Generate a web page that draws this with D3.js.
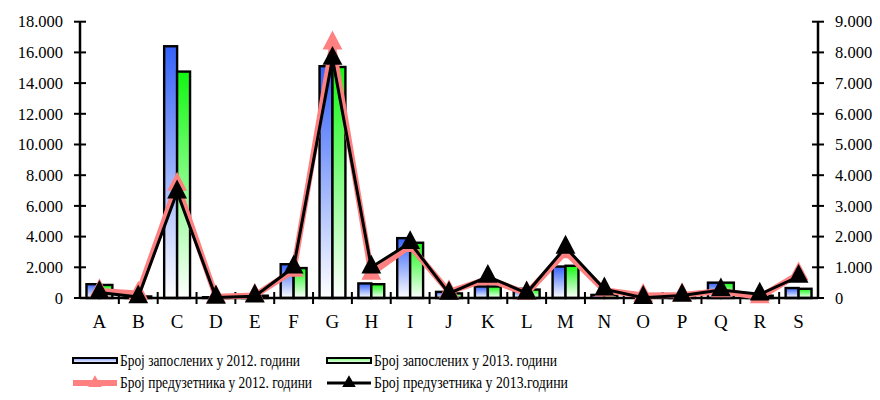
<!DOCTYPE html>
<html><head><meta charset="utf-8">
<script src="https://cdn.jsdelivr.net/npm/d3@7"></script>
<style>body{margin:0;background:#fff}svg{display:block}</style>
</head><body>
<svg id="c" width="880" height="400"></svg>
<script>
const categories = ["A","B","C","D","E","F","G","H","I","J","K","L","M","N","O","P","Q","R","S"];
const employees2012 = [900,100,16400,50,150,2200,15100,950,3900,400,750,600,2050,200,0,50,1000,150,650];
const employees2013 = [850,100,14750,50,150,1950,15050,900,3600,300,750,550,2100,200,0,50,1000,150,600];
const entrepreneurs2012 = [230,150,3700,40,80,900,8300,800,1700,200,620,150,1500,250,80,100,230,30,780];
const entrepreneurs2013 = [180,30,3450,20,60,1000,7800,1000,1800,150,700,160,1650,290,10,80,260,120,700];
const leftTicks = [0,2000,4000,6000,8000,10000,12000,14000,16000,18000];
const rightTicks = [0,1000,2000,3000,4000,5000,6000,7000,8000,9000];
const legendLabels = ["Број запослених у 2012. години","Број запослених у 2013. години","Број предузетника у 2012. години","Број предузетника у 2013.години"];

const SERIF = "'Liberation Serif', 'Times New Roman', Times, serif";
const svg = d3.select("#c");
const X0 = 80, X1 = 818, Y0 = 298, Y1 = 21.7;
const x = d3.scaleBand().domain(categories).range([X0, X1]);
const xs = d3.scaleBand().domain([0,1]).range([0, x.bandwidth()*2/3]).padding(0);
const yL = d3.scaleLinear().domain([0,18000]).range([Y0, Y1]);
const yR = d3.scaleLinear().domain([0,9000]).range([Y0, Y1]);
const fmt = v => d3.format(",")(v).replace(/,/g, ".");

const defs = svg.append("defs");
function grad(id, top) {
  const g = defs.append("linearGradient").attr("id", id).attr("x1",0).attr("y1",0).attr("x2",0).attr("y2",1);
  g.append("stop").attr("offset","0%").attr("stop-color", top);
  g.append("stop").attr("offset","100%").attr("stop-color", "#ffffff");
}
grad("gb", "#3462f8");
grad("gg", "#12f812");
grad("lb", "#7f9cff");
grad("lg", "#6cff6c");

// bars
const series = [{vals: employees2012, fill: "url(#gb)"}, {vals: employees2013, fill: "url(#gg)"}];
series.forEach((s, i) => {
  svg.append("g").selectAll("rect").data(categories).join("rect")
    .attr("x", c => x(c) + x.bandwidth()/6 + xs(i))
    .attr("width", xs.bandwidth())
    .attr("y", (c, k) => yL(s.vals[k]))
    .attr("height", (c, k) => Y0 - yL(s.vals[k]))
    .attr("fill", s.fill)
    .attr("stroke", "#000").attr("stroke-width", 2.4);
});

// axes
const axL = d3.axisLeft(yL).tickValues(leftTicks).tickFormat(fmt).tickSize(0).tickPadding(17);
const gL = svg.append("g").attr("transform", `translate(${X0},0)`).call(axL);
const axR = d3.axisRight(yR).tickValues(rightTicks).tickFormat(fmt).tickSize(0).tickPadding(17);
const gR = svg.append("g").attr("transform", `translate(${X1},0)`).call(axR);
[gL, gR].forEach(g => {
  g.select(".domain").remove();
  g.attr("font-family", SERIF);
  g.selectAll("text").style("font-family", SERIF).attr("font-size", 16.5).attr("fill", "#000");
});
svg.append("line").attr("x1", X0).attr("x2", X0).attr("y1", Y1).attr("y2", Y0).attr("stroke", "#000").attr("stroke-width", 2.5);
svg.append("line").attr("x1", X1).attr("x2", X1).attr("y1", Y1).attr("y2", Y0).attr("stroke", "#000").attr("stroke-width", 2.5);
svg.append("g").selectAll("line").data(leftTicks).join("line")
  .attr("x1", X0-6).attr("x2", X0+6).attr("y1", d => yL(d)).attr("y2", d => yL(d)).attr("stroke", "#000").attr("stroke-width", 2);
svg.append("g").selectAll("line").data(rightTicks).join("line")
  .attr("x1", X1-6).attr("x2", X1+6).attr("y1", d => yR(d)).attr("y2", d => yR(d)).attr("stroke", "#000").attr("stroke-width", 2);

const axB = d3.axisBottom(x).tickSize(0).tickPadding(17);
const gB = svg.append("g").attr("transform", `translate(0,${Y0})`).call(axB);
gB.select(".domain").remove();
gB.attr("font-family", SERIF);
gB.selectAll("text").style("font-family", SERIF).attr("font-size", 19).attr("fill", "#000");
svg.append("line").attr("x1", X0).attr("x2", X1).attr("y1", Y0).attr("y2", Y0).attr("stroke", "#000").attr("stroke-width", 2.5);
svg.append("g").selectAll("line").data(categories.slice(1)).join("line")
  .attr("x1", c => x(c)).attr("x2", c => x(c)).attr("y1", Y0-6).attr("y2", Y0+6).attr("stroke", "#000").attr("stroke-width", 2);

// lines
const tri = d3.symbol().type(d3.symbolTriangle).size(170);
function drawLine(vals, color, w) {
  const line = d3.line().x((d, k) => x(categories[k]) + x.bandwidth()/2).y(d => yR(d));
  svg.append("path").datum(vals).attr("d", line).attr("fill", "none")
    .attr("stroke", color).attr("stroke-width", w).attr("stroke-linejoin", "miter");
  svg.append("g").selectAll("path").data(vals).join("path")
    .attr("d", tri)
    .attr("transform", (d, k) => `translate(${x(categories[k]) + x.bandwidth()/2},${yR(d)}) scale(1,1.1)`)
    .attr("fill", color);
}
drawLine(entrepreneurs2012, "#ff8080", 6);
drawLine(entrepreneurs2013, "#000000", 3);

// legend
const leg = svg.append("g").attr("font-family", SERIF);
const lx = [73, 327], ly = [361, 383];
const tW = [180, 183, 192, 194];
[0,1].forEach(i => {
  leg.append("rect").attr("x", lx[i]).attr("y", ly[0]-3).attr("width", 44).attr("height", 5)
    .attr("fill", i === 0 ? "url(#lb)" : "url(#lg)").attr("stroke", "#000").attr("stroke-width", 2);
});
leg.append("line").attr("x1", lx[0]).attr("x2", lx[0]+44).attr("y1", ly[1]).attr("y2", ly[1]).attr("stroke", "#ff8080").attr("stroke-width", 6);
leg.append("path").attr("d", d3.symbol().type(d3.symbolTriangle).size(80)()).attr("transform", `translate(${lx[0]+22},${ly[1]})`).attr("fill", "#ff8080");
leg.append("line").attr("x1", lx[1]).attr("x2", lx[1]+44).attr("y1", ly[1]).attr("y2", ly[1]).attr("stroke", "#000").attr("stroke-width", 3);
leg.append("path").attr("d", d3.symbol().type(d3.symbolTriangle).size(80)()).attr("transform", `translate(${lx[1]+22},${ly[1]})`).attr("fill", "#000");
legendLabels.forEach((t, i) => {
  leg.append("text").attr("x", lx[i%2] + 47).attr("y", ly[Math.floor(i/2)] + 5)
    .style("font-family", SERIF).attr("font-size", 16)
    .attr("textLength", tW[i]).attr("lengthAdjust", "spacingAndGlyphs")
    .text(t);
});
</script>
</body></html>
